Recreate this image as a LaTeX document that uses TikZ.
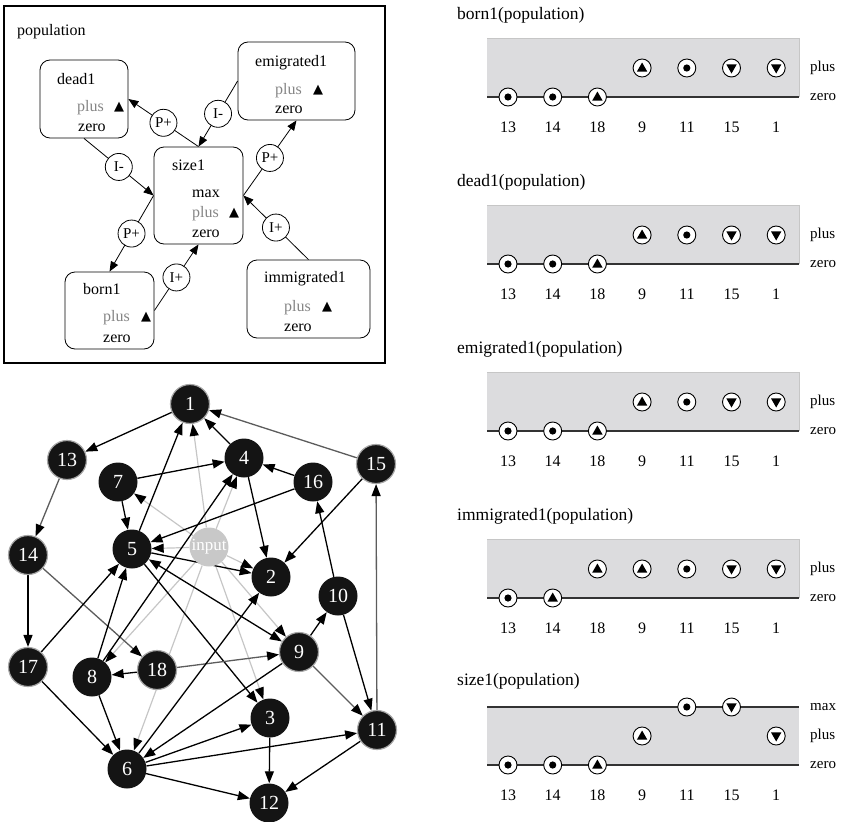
\documentclass[tikz,border=0pt]{standalone}
\usepackage{fontspec}
\setmainfont{Liberation Serif}
\newfontfamily\symfont{DejaVu Sans}
\usetikzlibrary{arrows.meta,backgrounds}

\definecolor{nodeblack}{HTML}{141414}
\definecolor{inputgray}{HTML}{C8C8C8}
\definecolor{edgegray}{HTML}{5C5C5C}
\definecolor{faintgray}{HTML}{C6C6C6}
\definecolor{panelbg}{HTML}{DCDCDE}
\definecolor{plusgray}{HTML}{858585}

\newcommand\fs[1]{\fontsize{#1}{#1}\selectfont}

% frame of one qualitative-state chart: title, shaded band, row labels, column numbers
\newcommand\chartframe[3]{%
  \node[charttitle] (#1-title) at (457,#2-23) {#3};
  \fill[panelbg] (487,#2) rectangle (799,#2+59);
  \draw[panelrim] (487,#2) -- (799,#2) -- (799,#2+59);
  \draw[zeroline] (487,#2+59) -- (799,#2+59);
  \node[rowlabel] (#1-plus) at (810,#2+30) {plus};
  \node[rowlabel] (#1-zero) at (810,#2+59) {zero};
  \foreach \n [count=\i from 0] in {13,14,18,9,11,15,1}
    \node[colnum] (#1-c\n) at (508+44.7*\i,#2+89) {\n};
}
% a value marker in column #3 at height #4
\newcommand\putmark[4]{\node[#2] (#1) at (508+44.7*#3,#4) {};}

\begin{document}
\begin{tikzpicture}[x=1pt,y=-1pt,
  box/.style={draw, rounded corners=10pt, line width=0.8pt, inner sep=0},
  mtxt/.style={anchor=west, inner sep=0, font=\fs{16}, text height=11pt, text depth=3pt},
  ptxt/.style={mtxt, text=plusgray},
  tri/.style={inner sep=0, font=\symfont\fs{13}},
  inf/.style={circle, draw, fill=white, line width=0.8pt, minimum size=27, inner sep=0, font=\fs{15}},
  marr/.style={line width=0.8pt, -{Triangle[length=10pt,width=8pt]}},
  gnode/.style={circle, fill=nodeblack, minimum size=39, inner sep=0, text=white, font=\fs{20}},
  rim/.style={draw=gray!70, line width=1.2pt},
  inputnode/.style={circle, fill=inputgray, minimum size=39, inner sep=0, text=white, font=\fs{17}},
  edge/.style={line width=1.3pt, draw=black, -{Triangle[length=12pt,width=9pt]}},
  bedge/.style={line width=1.3pt, draw=black, {Triangle[length=12pt,width=9pt]}-{Triangle[length=12pt,width=9pt]}},
  gedge/.style={line width=1.3pt, draw=edgegray, -{Triangle[length=12pt,width=9pt,color=black]}},
  fedge/.style={line width=1.2pt, draw=faintgray, -{Triangle[length=12pt,width=9pt,color=black]}},
  charttitle/.style={anchor=west, inner sep=0, font=\fs{17.5}},
  rowlabel/.style={anchor=west, inner sep=0, font=\fs{15}},
  colnum/.style={inner sep=0, font=\fs{16}},
  panelrim/.style={draw=gray!45, line width=0.6pt},
  zeroline/.style={draw=black!80, line width=1.4pt},
  mk/.style={circle, draw=black, fill=white, line width=0.9pt, minimum size=18, inner sep=0},
  mdot/.style={mk, path picture={\fill[black] (path picture bounding box.center) circle (3.6pt);}},
  mup/.style={mk, path picture={\fill[black, shift={(path picture bounding box.center)}] (0pt,5.5pt) -- (5.2pt,-3.6pt) -- (-5.2pt,-3.6pt) -- cycle;}},
  mdown/.style={mk, path picture={\fill[black, shift={(path picture bounding box.center)}] (0pt,-5.5pt) -- (5.2pt,3.6pt) -- (-5.2pt,3.6pt) -- cycle;}},
]
\useasboundingbox (0,0) rectangle (847,822);

% ---------------- qualitative model of the population ----------------
\draw[line width=1.1pt] (4,6) rectangle (385,363);
\node[anchor=west, inner sep=0, font=\fs{16}] (poplabel) at (17,32) {population};

\node[box, minimum width=88, minimum height=78] (dead1) at (84,99) {};
\node[mtxt] (dead1-name) at (57,80) {dead1};
\node[ptxt] (dead1-plus) at (77,107) {plus};
\node[tri] (dead1-tri) at (119,107) {▲};
\node[mtxt] (dead1-zero) at (78,127) {zero};

\node[box, minimum width=117, minimum height=78] (emig1) at (296.5,81) {};
\node[mtxt] (emig1-name) at (255,62) {emigrated1};
\node[ptxt] (emig1-plus) at (275,90) {plus};
\node[tri] (emig1-tri) at (318,90) {▲};
\node[mtxt] (emig1-zero) at (275,109) {zero};

\node[box, minimum width=89, minimum height=97] (size1) at (198.5,195.5) {};
\node[mtxt] (size1-name) at (172,166) {size1};
\node[mtxt] (size1-max) at (192,193) {max};
\node[ptxt] (size1-plus) at (192,213) {plus};
\node[tri] (size1-tri) at (234,213) {▲};
\node[mtxt] (size1-zero) at (192,233) {zero};

\node[box, minimum width=89, minimum height=77] (born1) at (109.5,310.5) {};
\node[mtxt] (born1-name) at (83,290) {born1};
\node[ptxt] (born1-plus) at (103,317) {plus};
\node[tri] (born1-tri) at (146,317) {▲};
\node[mtxt] (born1-zero) at (103,338) {zero};

\node[box, minimum width=123, minimum height=78] (immig1) at (308.5,299) {};
\node[mtxt] (immig1-name) at (264,278) {immigrated1};
\node[ptxt] (immig1-plus) at (284,307) {plus};
\node[tri] (immig1-tri) at (327,307) {▲};
\node[mtxt] (immig1-zero) at (284,327) {zero};

\draw[marr] (size1.north) -- node[inf] (inf1) {P+} (dead1.east);
\draw[marr] (emig1.west) -- node[inf] (inf2) {I-} (size1.north);
\draw[marr] (size1.east) -- node[inf] (inf3) {P+} (emig1.south);
\draw[marr] (immig1.north) -- node[inf] (inf4) {I+} (size1.east);
\draw[marr] (dead1.south) -- node[inf] (inf5) {I-} (size1.west);
\draw[marr] (size1.west) -- node[inf] (inf6) {P+} (born1.north);
\draw[marr] (born1.east) -- node[inf] (inf7) {I+} (size1.south);

% ---------------- dependency graph ----------------
\node[gnode, rim] (n1) at (190,404) {1};
\node[gnode, rim] (n13) at (67,460) {13};
\node[gnode] (n7) at (118,482) {7};
\node[gnode] (n4) at (244,458) {4};
\node[gnode] (n16) at (313,482) {16};
\node[gnode, rim] (n15) at (376,464) {15};
\node[gnode, rim] (n14) at (28,555) {14};
\node[gnode] (n5) at (132,549) {5};
\node[inputnode] (input) at (209,547) {input};
\node[gnode] (n2) at (271,577) {2};
\node[gnode] (n10) at (338,596) {10};
\node[gnode, rim] (n9) at (299,652) {9};
\node[gnode, rim] (n17) at (28,667) {17};
\node[gnode] (n8) at (92,677) {8};
\node[gnode, rim] (n18) at (157,670) {18};
\node[gnode] (n3) at (270,718) {3};
\node[gnode, rim] (n11) at (377,730) {11};
\node[gnode] (n6) at (127,769) {6};
\node[gnode] (n12) at (269,803) {12};

\begin{pgfonlayer}{background}
  \foreach \t in {n1,n4,n7,n5,n2,n9,n3,n8,n6}
    \draw[fedge] (input) -- (\t);
  \draw[edge] (n1) -- (n13);
  \draw[gedge] (n13) -- (n14);
  \draw[edge] (n14) -- (n17);
  \draw[gedge] (n14) -- (n18);
  \draw[gedge] (n15) -- (n1);
  \draw[edge] (n4) -- (n1);
  \draw[edge] (n5) -- (n1);
  \draw[edge] (n7) -- (n4);
  \draw[edge] (n16) -- (n4);
  \draw[edge] (n7) -- (n5);
  \draw[edge] (n16) -- (n5);
  \draw[edge] (n8) -- (n4);
  \draw[edge] (n4) -- (n2);
  \draw[edge] (n5) -- (n2);
  \draw[edge] (n15) -- (n2);
  \draw[bedge] (n5) -- (n9);
  \draw[edge] (n5) -- (n3);
  \draw[edge] (n8) -- (n5);
  \draw[edge] (n17) -- (n5);
  \draw[edge] (n17) -- (n6);
  \draw[edge] (n8) -- (n6);
  \draw[edge] (n18) -- (n8);
  \draw[gedge] (n18) -- (n9);
  \draw[edge] (n6) -- (n2);
  \draw[edge] (n6) -- (n3);
  \draw[edge] (n6) -- (n11);
  \draw[edge] (n6) -- (n12);
  \draw[edge] (n9) -- (n6);
  \draw[edge] (n9) -- (n10);
  \draw[gedge] (n9) -- (n11);
  \draw[edge] (n10) -- (n11);
  \draw[edge] (n10) -- (n16);
  \draw[gedge] (n11) -- (n15);
  \draw[edge] (n3) -- (n12);
  \draw[edge] (n11) -- (n12);
\end{pgfonlayer}

% ---------------- state charts ----------------
\chartframe{p1}{38}{born1(population)}
\putmark{p1-m13}{mdot}{0}{97}
\putmark{p1-m14}{mdot}{1}{97}
\putmark{p1-m18}{mup}{2}{97}
\putmark{p1-m9}{mup}{3}{68}
\putmark{p1-m11}{mdot}{4}{68}
\putmark{p1-m15}{mdown}{5}{68}
\putmark{p1-m1}{mdown}{6}{68}

\chartframe{p2}{205}{dead1(population)}
\putmark{p2-m13}{mdot}{0}{264}
\putmark{p2-m14}{mdot}{1}{264}
\putmark{p2-m18}{mup}{2}{264}
\putmark{p2-m9}{mup}{3}{235}
\putmark{p2-m11}{mdot}{4}{235}
\putmark{p2-m15}{mdown}{5}{235}
\putmark{p2-m1}{mdown}{6}{235}

\chartframe{p3}{372}{emigrated1(population)}
\putmark{p3-m13}{mdot}{0}{431}
\putmark{p3-m14}{mdot}{1}{431}
\putmark{p3-m18}{mup}{2}{431}
\putmark{p3-m9}{mup}{3}{402}
\putmark{p3-m11}{mdot}{4}{402}
\putmark{p3-m15}{mdown}{5}{402}
\putmark{p3-m1}{mdown}{6}{402}

\chartframe{p4}{539}{immigrated1(population)}
\putmark{p4-m13}{mdot}{0}{598}
\putmark{p4-m14}{mup}{1}{598}
\putmark{p4-m18}{mup}{2}{569}
\putmark{p4-m9}{mup}{3}{569}
\putmark{p4-m11}{mdot}{4}{569}
\putmark{p4-m15}{mdown}{5}{569}
\putmark{p4-m1}{mdown}{6}{569}

% size chart has three rows: max, plus, zero
\node[charttitle] (p5-title) at (457,681) {size1(population)};
\fill[panelbg] (487,707) rectangle (799,765);
\draw[zeroline] (487,707) -- (799,707);
\draw[zeroline] (487,765) -- (799,765);
\node[rowlabel] (p5-max) at (810,707) {max};
\node[rowlabel] (p5-plus) at (810,736) {plus};
\node[rowlabel] (p5-zero) at (810,765) {zero};
\foreach \n [count=\i from 0] in {13,14,18,9,11,15,1}
  \node[colnum] (p5-c\n) at (508+44.7*\i,795) {\n};
\putmark{p5-m13}{mdot}{0}{765}
\putmark{p5-m14}{mdot}{1}{765}
\putmark{p5-m18}{mup}{2}{765}
\putmark{p5-m9}{mup}{3}{736}
\putmark{p5-m11}{mdot}{4}{707}
\putmark{p5-m15}{mdown}{5}{707}
\putmark{p5-m1}{mdown}{6}{736}
\end{tikzpicture}
\end{document}
